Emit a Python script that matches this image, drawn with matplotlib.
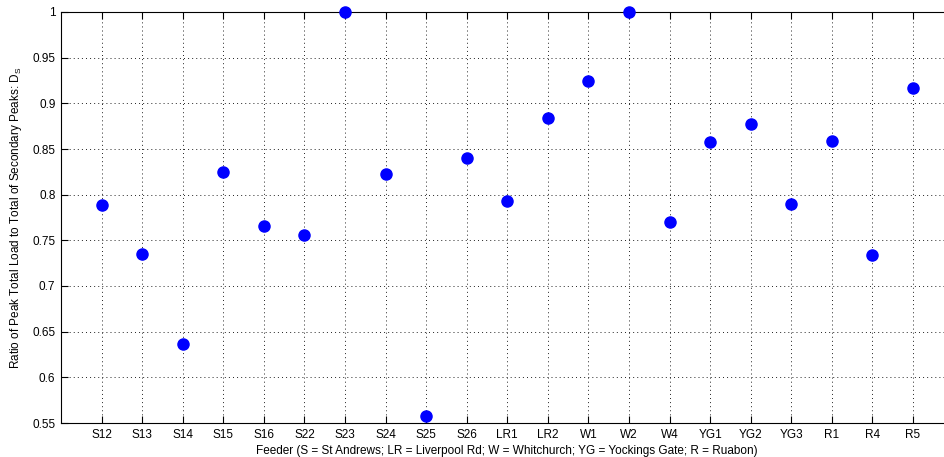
import matplotlib
matplotlib.use("Agg")
import matplotlib.pyplot as plt

feeders = ["S12", "S13", "S14", "S15", "S16", "S22", "S23", "S24", "S25", "S26",
           "LR1", "LR2", "W1", "W2", "W4", "YG1", "YG2", "YG3", "R1", "R4", "R5"]
ratios = [0.789, 0.735, 0.637, 0.825, 0.766, 0.756, 1.0, 0.823, 0.558, 0.840,
          0.793, 0.884, 0.925, 1.0, 0.770, 0.858, 0.877, 0.790, 0.859, 0.734, 0.917]
yticks = [0.55, 0.6, 0.65, 0.7, 0.75, 0.8, 0.85, 0.9, 0.95, 1.0]
ytick_labels = ["0.55", "0.6", "0.65", "0.7", "0.75", "0.8", "0.85", "0.9", "0.95", "1"]

plt.rcParams['font.family'] = ['Liberation Sans', 'DejaVu Sans']

fig = plt.figure(figsize=(9.44, 4.57), dpi=100)
ax = fig.add_axes([61/944, 34/457, (953.6-61)/944, 411/457])

xs = list(range(1, len(feeders) + 1))
ax.plot(xs, ratios, linestyle='none', marker='o', markersize=8,
        color='#0000ff', markeredgecolor='#0000ff', clip_on=False, zorder=3)

ax.set_xlim(0, 22)
ax.set_ylim(0.55, 1.0)
ax.set_xticks(xs)
ax.set_xticklabels(feeders, fontsize=8.5)
ax.set_yticks(yticks)
ax.set_yticklabels(ytick_labels, fontsize=8.5)

ax.grid(True, linestyle=(0, (1, 3.2)), color='#222222', linewidth=0.7)
ax.tick_params(direction='in', length=5, width=0.8, top=True, right=True, pad=4)
for s in ax.spines.values():
    s.set_linewidth(0.8)

ax.set_xlabel("Feeder (S = St Andrews; LR = Liverpool Rd; W = Whitchurch; YG = Yockings Gate; R = Ruabon)",
              fontsize=8.5, labelpad=3)
ax.set_ylabel("Ratio of Peak Total Load to Total of Secondary Peaks: D$_\\mathregular{S}$",
              fontsize=8.5, labelpad=6)

fig.savefig("out.png", dpi=100)
